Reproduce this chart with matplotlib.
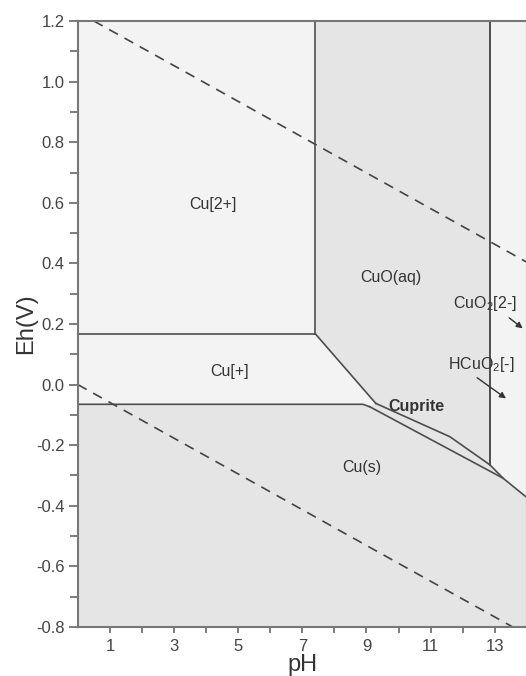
import matplotlib
matplotlib.use('Agg')
import matplotlib.pyplot as plt
from matplotlib.patches import Polygon

plt.rcParams['font.family'] = ['Liberation Sans', 'DejaVu Sans']
plt.rcParams['mathtext.fontset'] = 'custom'
plt.rcParams['mathtext.rm'] = 'Liberation Sans'
plt.rcParams['mathtext.it'] = 'Liberation Sans'
plt.rcParams['mathtext.default'] = 'regular'

# Cu-H2O Eh-pH boundaries (pH, Eh in V)
cu2_cu1_eh = 0.167
cu2_cuo_ph = 7.41
cuo_strip_ph = 12.85

cu1_cuo_ph = [7.41, 9.29]
cu1_cuo_eh = [0.167, -0.062]
cu1_cu_ph = [0.0, 8.89, 9.10]
cu1_cu_eh = [-0.065, -0.065, -0.073]
cuprite_top_ph = [9.29, 11.6, 12.85, 13.26]
cuprite_top_eh = [-0.062, -0.172, -0.265, -0.309]
cuprite_bottom_ph = [9.10, 13.26, 13.97]
cuprite_bottom_eh = [-0.073, -0.309, -0.370]

# water stability lines
o2_ph = [0.5, 14.0]
o2_eh = [1.20, 0.404]
h2_ph = [0.0, 13.56]
h2_eh = [0.0, -0.80]

# species labels: text, pH, Eh, bold
species = [
    ('Cu[2+]', 4.21, 0.593, False),
    ('Cu[+]', 4.74, 0.042, False),
    ('CuO(aq)', 9.76, 0.352, False),
    ('Cuprite', 10.57, -0.071, True),
    ('Cu(s)', 8.86, -0.275, False),
    ('CuO$_2$[2-]', 12.68, 0.269, False),
    ('HCuO$_2$[-]', 12.57, 0.065, False),
]
# arrows from the two anion labels into the narrow strip
arrows = [
    ((13.38, 0.226), (13.94, 0.180)),
    ((12.38, 0.028), (13.42, -0.051)),
]

x_ticks = list(range(1, 14))
x_labels = [str(t) if t % 2 == 1 else '' for t in x_ticks]
y_ticks = [-0.8, -0.6, -0.4, -0.2, 0.0, 0.2, 0.4, 0.6, 0.8, 1.0, 1.2]
y_labels = ['-0.8', '-0.6', '-0.4', '-0.2', '0.0', '0.2', '0.4', '0.6', '0.8', '1.0', '1.2']
y_minor = [-0.7, -0.5, -0.3, -0.1, 0.1, 0.3, 0.5, 0.7, 0.9, 1.1]

light = '#f3f3f3'
dark = '#e5e5e5'
edge = '#4d4d4d'

fig = plt.figure(figsize=(5.26, 6.76), dpi=100)
ax = fig.add_axes([0.148, 0.0725, 0.8536, 0.8964])
ax.set_xlim(0, 14)
ax.set_ylim(-0.8, 1.2)

# stability fields
regions = [
    ([(0, 1.2), (cu2_cuo_ph, 1.2), (cu2_cuo_ph, cu2_cu1_eh), (0, cu2_cu1_eh)], light),
    ([(0, cu2_cu1_eh)] + list(zip(cu1_cuo_ph, cu1_cuo_eh)) + list(zip(cu1_cu_ph[::-1], cu1_cu_eh[::-1])), light),
    ([(cu2_cuo_ph, 1.2), (cuo_strip_ph, 1.2)] + list(zip(cuprite_top_ph[:3][::-1], cuprite_top_eh[:3][::-1]))
     + [(cu1_cuo_ph[0], cu1_cuo_eh[0])], dark),
    ([(cuo_strip_ph, 1.2), (14, 1.2), (14, cuprite_bottom_eh[-1])]
     + [(cuprite_top_ph[3], cuprite_top_eh[3]), (cuprite_top_ph[2], cuprite_top_eh[2])], light),
    (list(zip(cuprite_top_ph, cuprite_top_eh)) + list(zip(cuprite_bottom_ph[:2][::-1], cuprite_bottom_eh[:2][::-1])), dark),
    ([(0, -0.8), (14, -0.8), (14, cuprite_bottom_eh[-1])] + list(zip(cuprite_bottom_ph[::-1], cuprite_bottom_eh[::-1]))
     + list(zip(cu1_cu_ph[:2][::-1], cu1_cu_eh[:2][::-1])), dark),
]
for verts, col in regions:
    ax.add_patch(Polygon(verts, closed=True, facecolor=col, edgecolor='none', zorder=0))

# field boundaries
lw = 1.2
ax.plot([0, cu2_cuo_ph], [cu2_cu1_eh, cu2_cu1_eh], color=edge, lw=lw)
ax.plot([cu2_cuo_ph, cu2_cuo_ph], [cu2_cu1_eh, 1.2], color=edge, lw=lw)
ax.plot([cuo_strip_ph, cuo_strip_ph], [cuprite_top_eh[2], 1.2], color='#333333', lw=lw)
ax.plot(cu1_cuo_ph, cu1_cuo_eh, color=edge, lw=lw)
ax.plot(cu1_cu_ph, cu1_cu_eh, color=edge, lw=lw)
ax.plot(cuprite_top_ph, cuprite_top_eh, color=edge, lw=lw)
ax.plot(cuprite_bottom_ph, cuprite_bottom_eh, color=edge, lw=lw)

# water limits
ax.plot(o2_ph, o2_eh, color='#444444', lw=1.2, dashes=(6, 4.5))
ax.plot(h2_ph, h2_eh, color='#444444', lw=1.2, dashes=(6, 4.5))

for text, px, py, bold in species:
    ax.text(px, py, text, ha='center', va='center', fontsize=11.5, color='#333333',
            fontweight='bold' if bold else 'normal')
for start, end in arrows:
    ax.annotate('', xy=end, xytext=start,
                arrowprops=dict(arrowstyle='-|>', color='#333333', lw=1.0, mutation_scale=9))

ax.set_xticks(x_ticks)
ax.set_xticklabels(x_labels)
ax.set_yticks(y_ticks)
ax.set_yticklabels(y_labels)
ax.set_yticks(y_minor, minor=True)
ax.tick_params(axis='both', colors='#666666', labelcolor='#444444', labelsize=12, width=1.2)
ax.tick_params(axis='y', which='major', length=6.5, pad=3)
ax.tick_params(axis='y', which='minor', length=5.5, width=1.2, colors='#666666')
ax.tick_params(axis='x', which='major', length=4, pad=5)
for sp in ax.spines.values():
    sp.set_color('#777777')
    sp.set_linewidth(1.5)

ax.set_xlabel('pH', fontsize=17, color='#333333', labelpad=0)
ax.set_ylabel('Eh(V)', fontsize=17, color='#333333', labelpad=-1)

fig.savefig('out.png', dpi=100)
